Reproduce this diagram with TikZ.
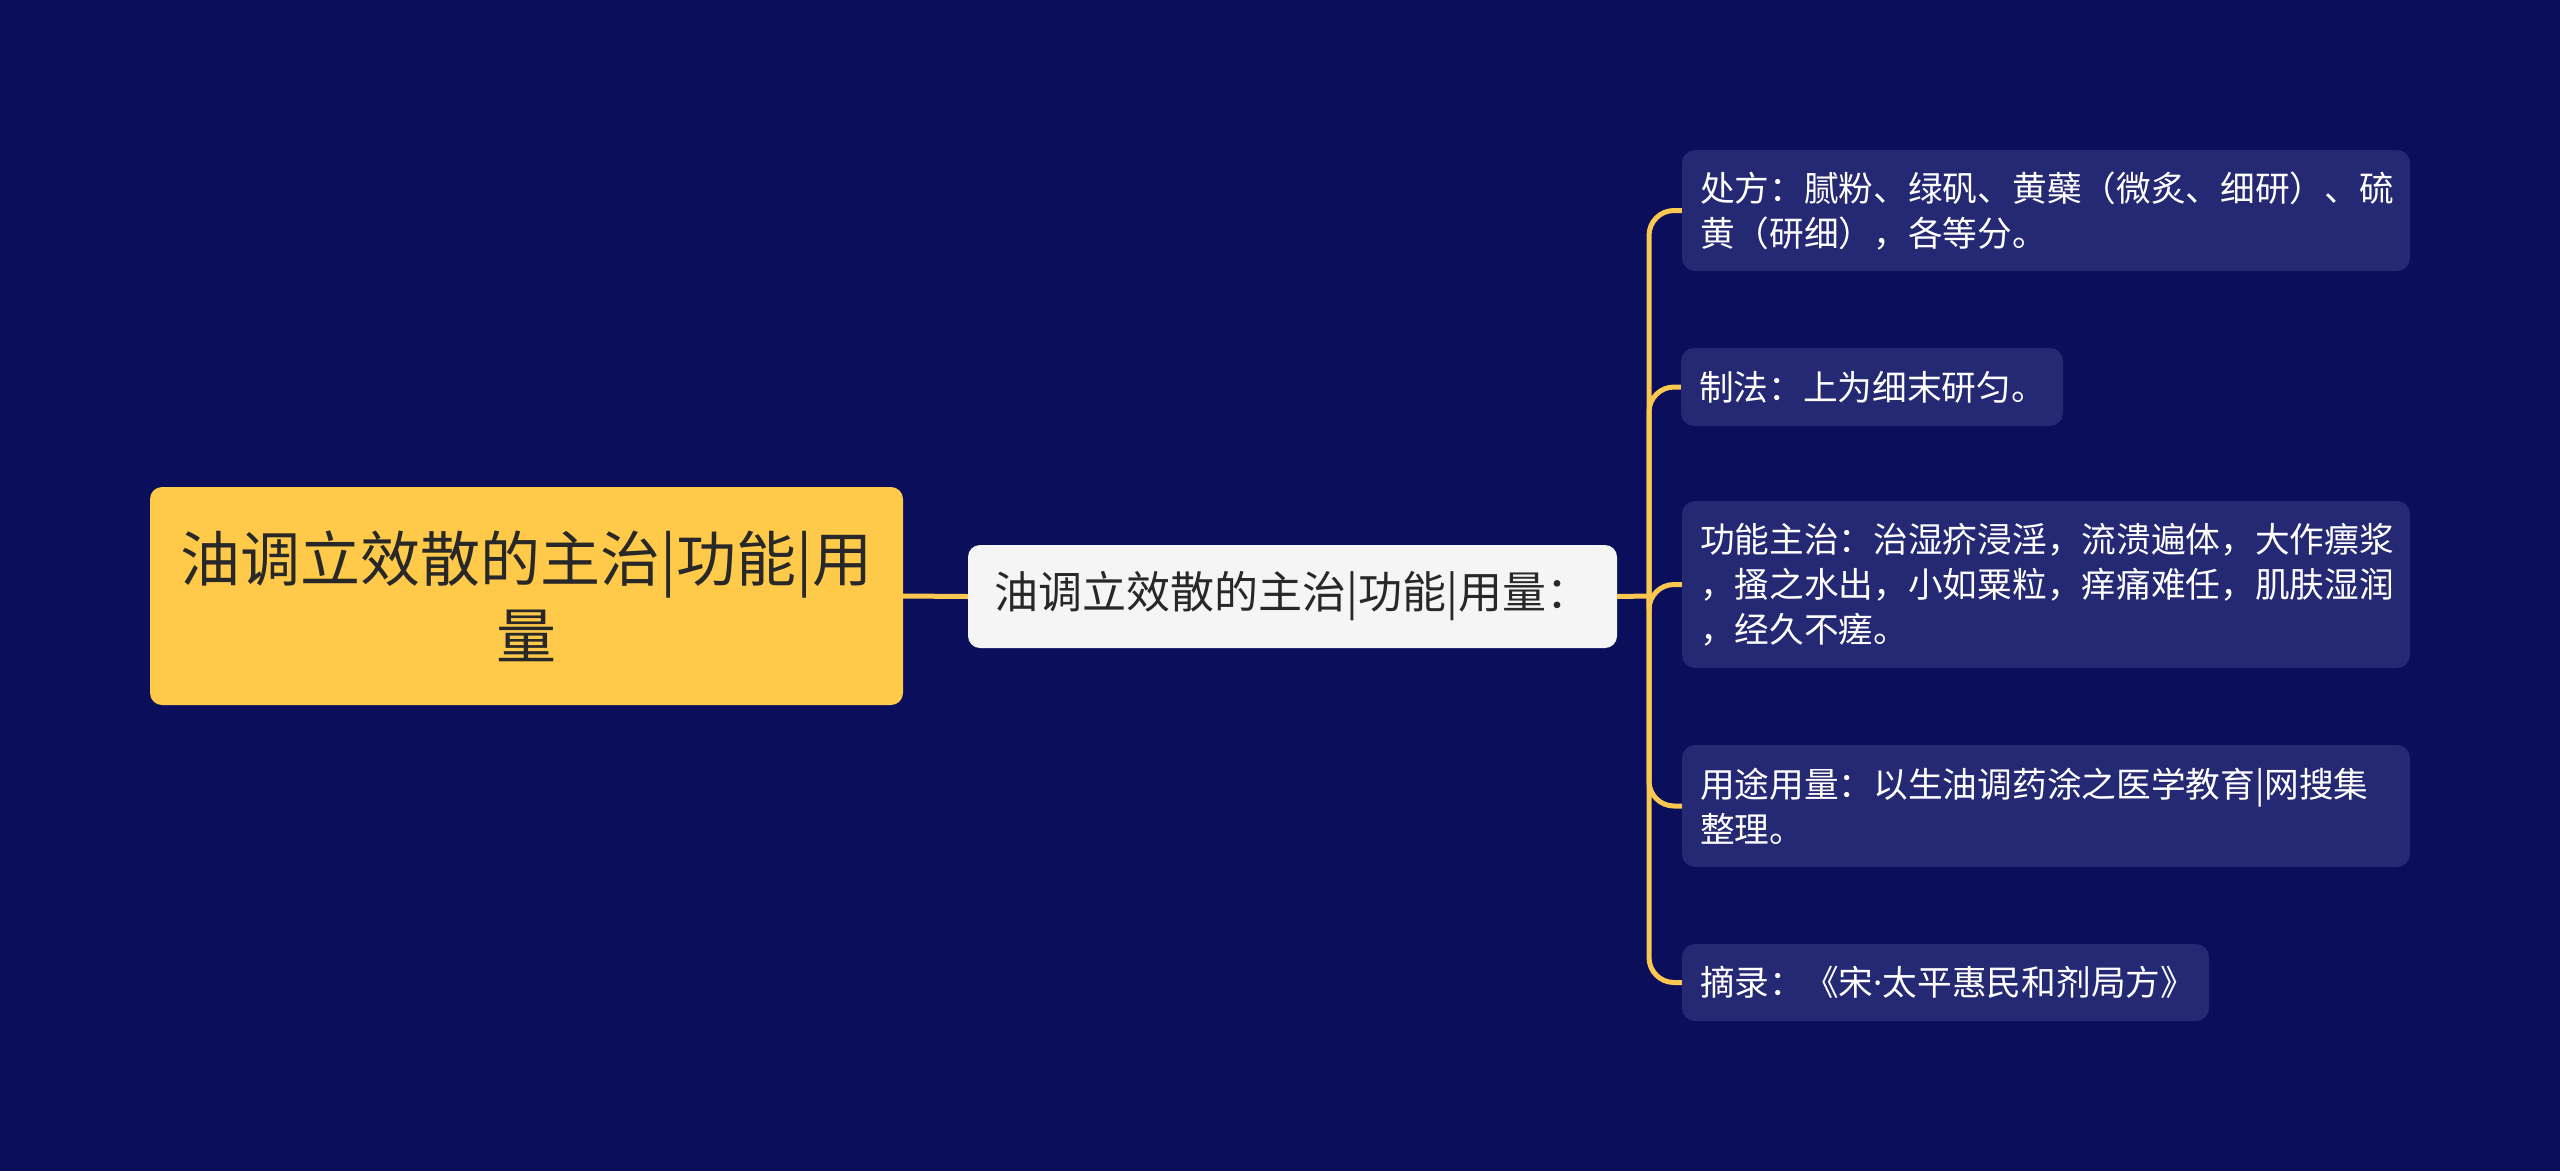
\documentclass[tikz,border=0pt]{standalone}
\usepackage{fontspec}
\setmainfont{Noto Sans CJK SC}
\newfontfamily\latinfont{Noto Sans}
\definecolor{bgnavy}{RGB}{10,14,91}
\definecolor{leafblue}{RGB}{37,41,115}
\definecolor{rootyellow}{RGB}{255,201,74}
\definecolor{lineyellow}{RGB}{250,200,80}
\definecolor{midwhite}{RGB}{245,245,245}
\definecolor{darktext}{RGB}{40,40,40}
\begin{document}
\begin{tikzpicture}[x=1pt,y=-1pt,
  conn/.style={draw=lineyellow, line width=5pt},
  leafbox/.style={fill=leafblue, rounded corners=13pt, text=white,
    font=\fontsize{34.7}{45}\selectfont, align=left, inner xsep=18pt, inner ysep=0pt, anchor=center},
  rootbox/.style={fill=rootyellow, rounded corners=12pt, text=darktext,
    font=\fontsize{60}{77}\selectfont, align=center, inner sep=0pt, anchor=center},
  midbox/.style={fill=midwhite, rounded corners=12pt, text=darktext,
    font=\fontsize{44}{50}\selectfont, align=center, inner sep=0pt, anchor=center}
]
\useasboundingbox[fill=bgnavy] (0,0) rectangle (2560,1171);

\node[rootbox, minimum width=753pt, minimum height=218pt] (root) at (526.5,596)
  {油调立效散的主治|功能|用\\量};
\node[midbox, minimum width=649pt, minimum height=103pt] (mid) at (1292.5,596.5)
  {油调立效散的主治|功能|用量：};

\node[leafbox, text width=692pt, minimum height=121pt] (l1) at (2046,210.5)
  {处方：腻粉、绿矾、黄蘗（微炙、细研）、硫\\黄（研细），各等分。};
\node[leafbox, text width=346pt, minimum height=78pt] (l2) at (1872,387)
  {制法：上为细末研匀。};
\node[leafbox, text width=692pt, minimum height=167pt] (l3) at (2046,584.5)
  {功能主治：治湿疥浸淫，流溃遍体，大作瘭浆\\，搔之水出，小如粟粒，痒痛难任，肌肤湿润\\，经久不瘥。};
\node[leafbox, text width=692pt, minimum height=122pt] (l4) at (2046,806)
  {用途用量：以生油调药涂之医学教育|网搜集\\整理。};
\node[leafbox, text width=491pt, minimum height=77pt] (l5) at (1945.5,982.5)
  {摘录：《宋{\latinfont ·}太平惠民和剂局方》};

\coordinate (t) at (1649,596);
\draw[conn] (root.east) -- (mid.west);
\draw[conn] (mid.east) -- (t);
\foreach \n in {l1,l2,l3,l4,l5}
  \draw[conn, rounded corners=25pt] (t) |- (\n.west);
\end{tikzpicture}
\end{document}
